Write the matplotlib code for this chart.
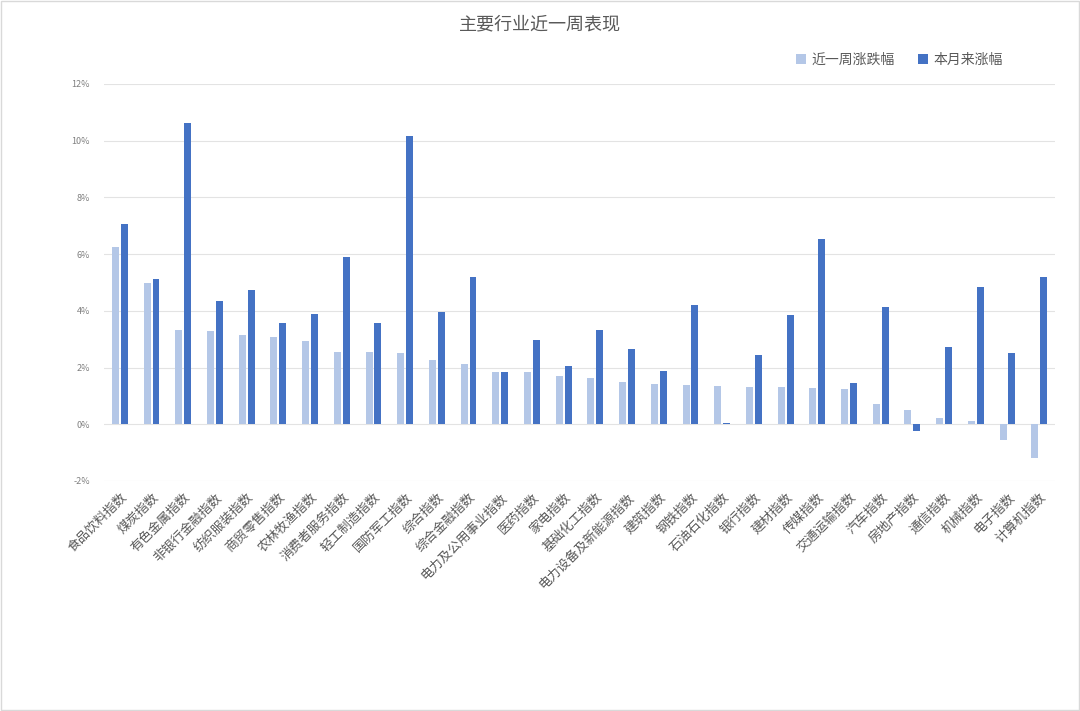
import numpy as np
import matplotlib.pyplot as plt
from matplotlib.patches import Rectangle
from matplotlib.ticker import FuncFormatter

plt.rcParams['font.family'] = ['Noto Sans CJK SC', 'DejaVu Sans']

industries = ["食品饮料指数", "煤炭指数", "有色金属指数", "非银行金融指数", "纺织服装指数",
              "商贸零售指数", "农林牧渔指数", "消费者服务指数", "轻工制造指数", "国防军工指数",
              "综合指数", "综合金融指数", "电力及公用事业指数", "医药指数", "家电指数",
              "基础化工指数", "电力设备及新能源指数", "建筑指数", "钢铁指数", "石油石化指数",
              "银行指数", "建材指数", "传媒指数", "交通运输指数", "汽车指数",
              "房地产指数", "通信指数", "机械指数", "电子指数", "计算机指数"]
week_chg = [6.25, 4.98, 3.32, 3.30, 3.14, 3.07, 2.95, 2.54, 2.54, 2.52,
            2.27, 2.13, 1.86, 1.86, 1.69, 1.64, 1.48, 1.42, 1.37, 1.36,
            1.33, 1.30, 1.27, 1.23, 0.72, 0.50, 0.22, 0.12, -0.55, -1.19]
month_chg = [7.06, 5.12, 10.62, 4.34, 4.73, 3.56, 3.88, 5.89, 3.56, 10.15,
             3.96, 5.21, 1.83, 2.96, 2.06, 3.31, 2.64, 1.88, 4.22, 0.05,
             2.44, 3.85, 6.52, 1.45, 4.13, -0.25, 2.74, 4.83, 2.50, 5.18]

fig = plt.figure(figsize=(10.8, 7.11), dpi=100)
ax = fig.add_axes([0.0963, 0.3235, 0.8806, 0.5584])

x = np.arange(len(industries))
w = 0.22
ax.bar(x - 0.14, week_chg, w, color="#B4C7E7", label="近一周涨跌幅", zorder=3)
ax.bar(x + 0.14, month_chg, w, color="#4472C4", label="本月来涨幅", zorder=3)

ax.set_xlim(-0.5, len(industries) - 0.5)
ax.set_ylim(-2, 12)
ax.set_yticks(range(-2, 13, 2))
ax.yaxis.set_major_formatter(FuncFormatter(lambda v, p: f"{v:.0f}%"))
ax.grid(axis="y", color="#E3E3E3", linewidth=0.8, zorder=0)
ax.tick_params(axis="y", length=0, labelsize=6.5, labelcolor="#808080", pad=10)
ax.tick_params(axis="x", length=0, labelsize=9.3, labelcolor="#595959", pad=7)
ax.set_xticks(x)
ax.set_xticklabels(industries, rotation=45, ha="right", rotation_mode="anchor")
for s in ax.spines.values():
    s.set_visible(False)

fig.text(0.5, 0.966, "主要行业近一周表现", ha="center", va="center",
         fontsize=13, color="#595959")
ax.legend(loc="center right", bbox_to_anchor=(0.958, 1.06), ncol=2, frameon=False,
          fontsize=10, labelcolor="#595959", handlelength=0.7, handleheight=0.7,
          handletextpad=0.4, columnspacing=1.7)

fig.patches.append(Rectangle((0.001, 0.001), 0.998, 0.998, transform=fig.transFigure,
                             fill=False, edgecolor="#D9D9D9", linewidth=1))

fig.savefig("out.png", dpi=100)
